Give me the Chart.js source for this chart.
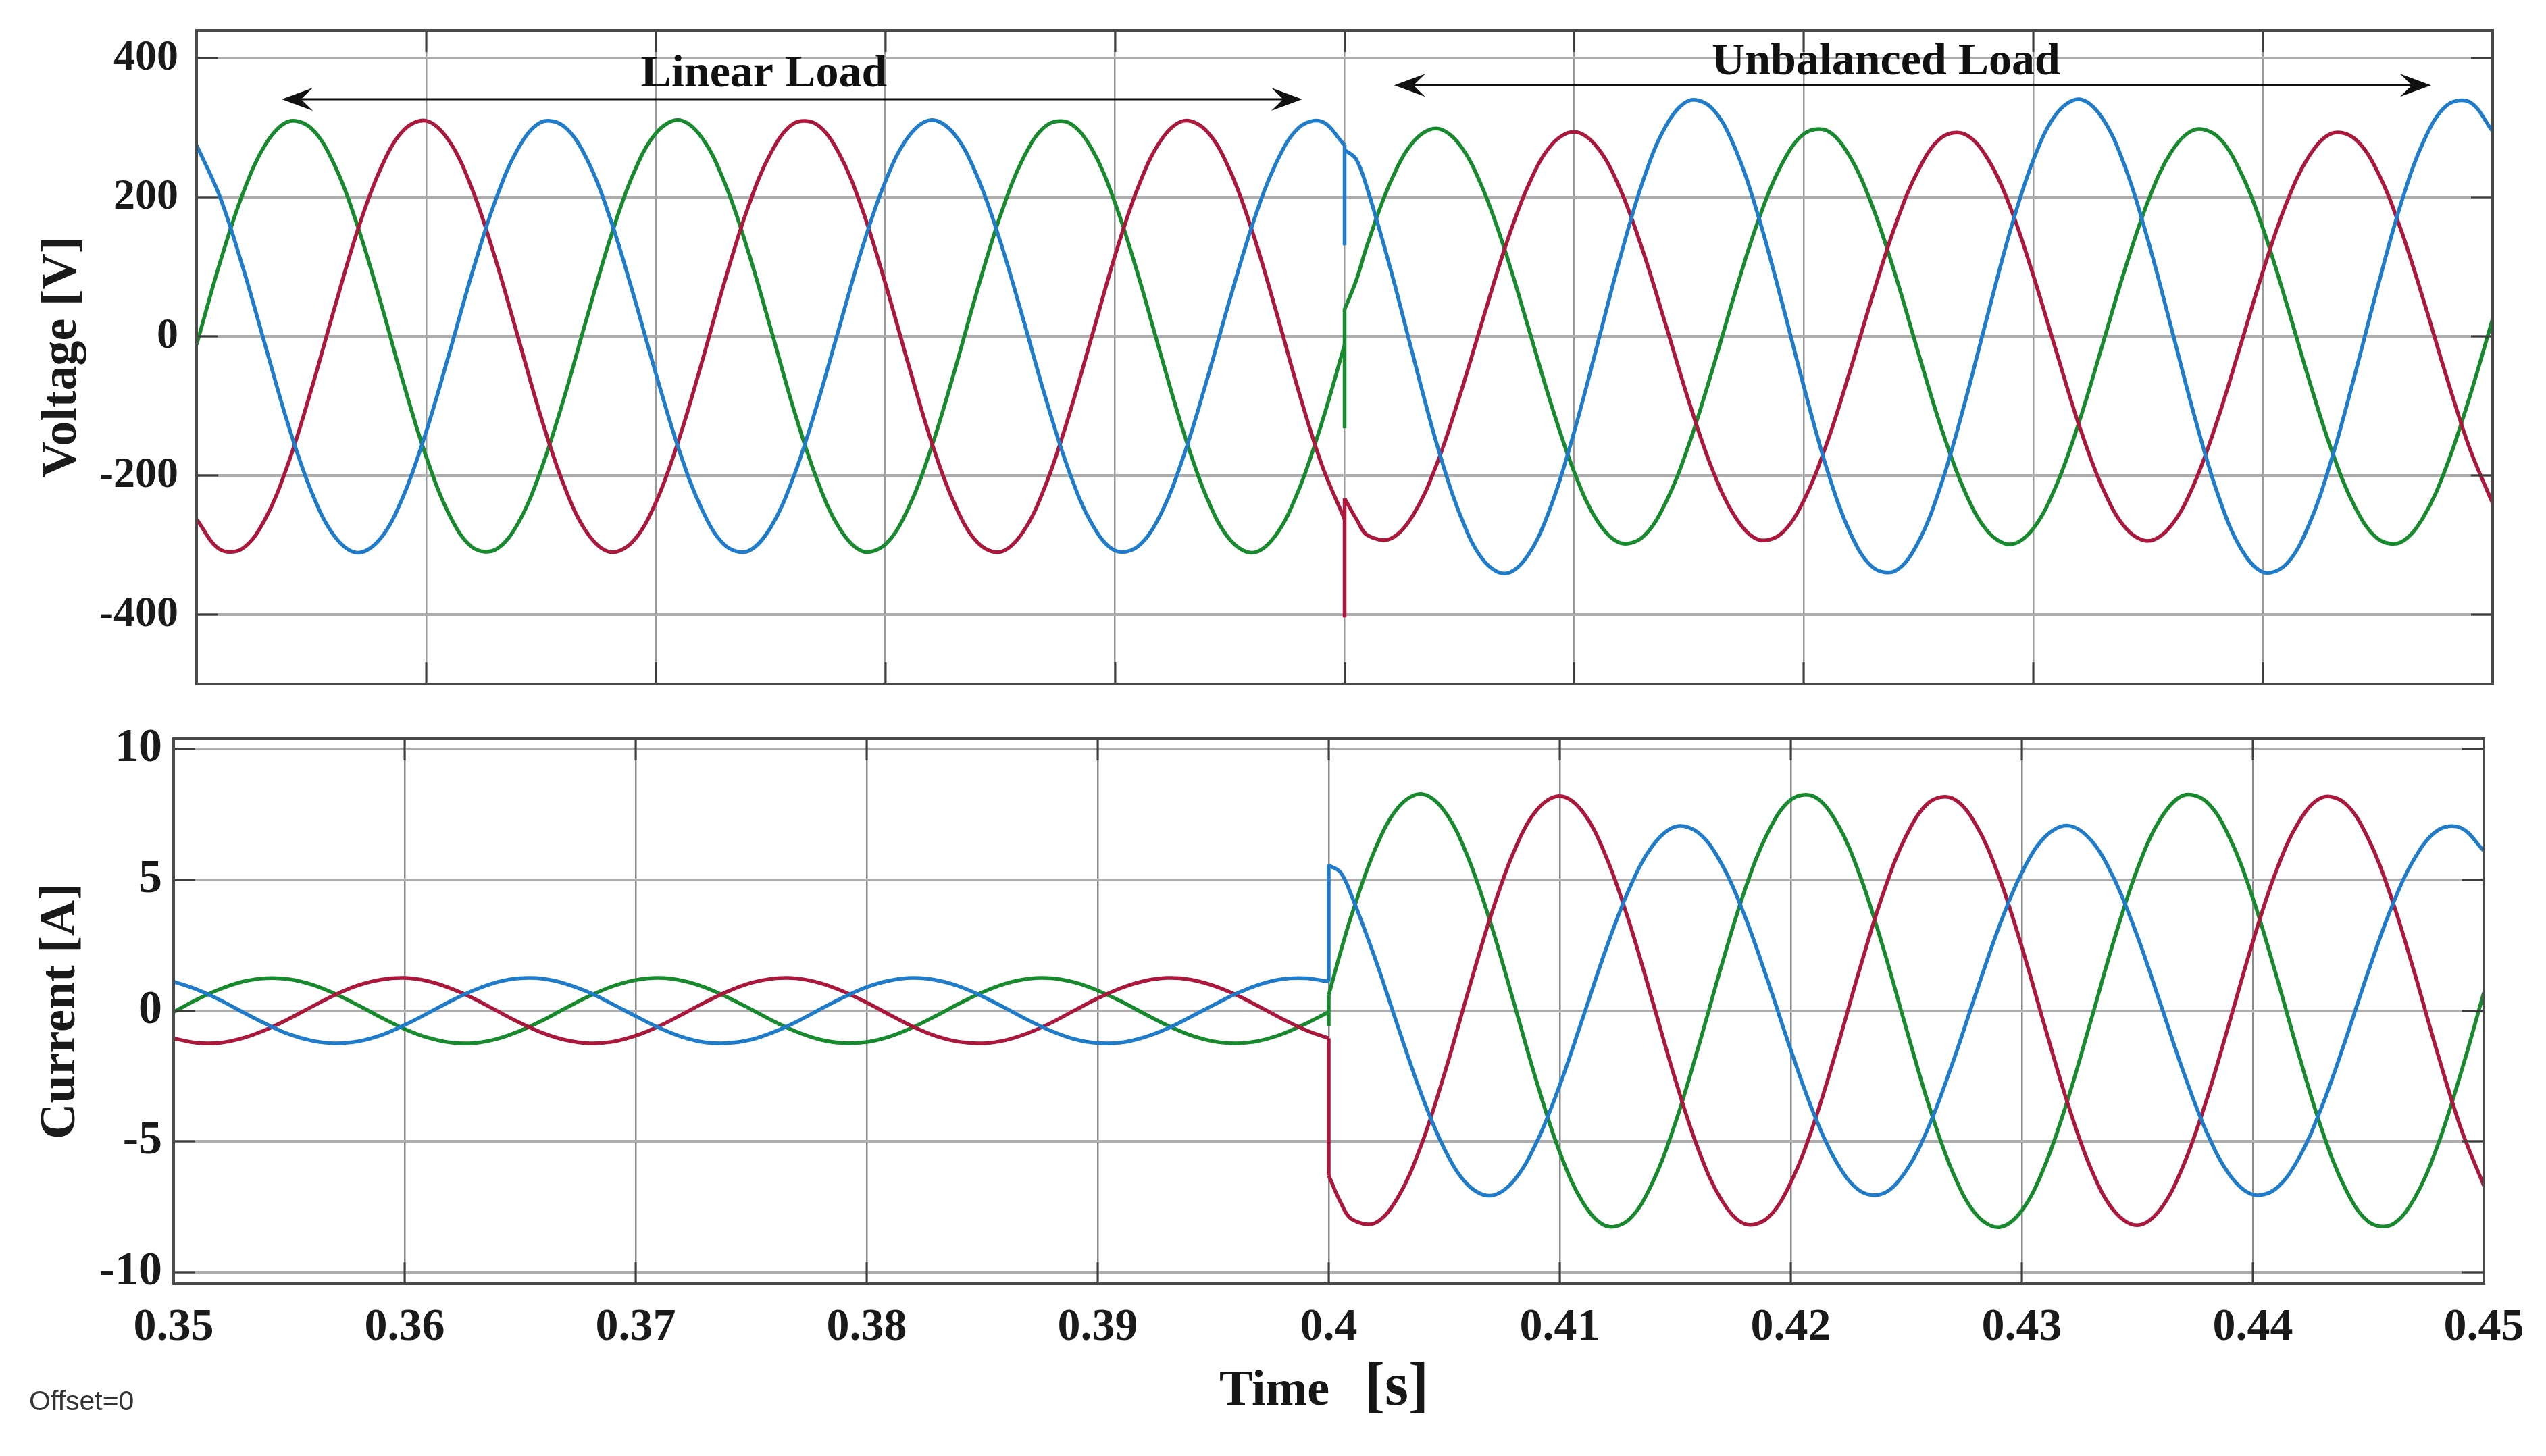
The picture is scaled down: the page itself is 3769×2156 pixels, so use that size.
<!DOCTYPE html>
<html><head><meta charset="utf-8">
<script src="https://cdn.jsdelivr.net/npm/chart.js@4.4.1/dist/chart.umd.min.js"></script>
<style>
html,body{margin:0;padding:0;background:#fff;width:3769px;height:2156px;overflow:hidden}
canvas{position:absolute;left:0}
#cv{top:0}
#ci{top:1040px}
</style></head><body>
<canvas id="cv" width="3769" height="1040"></canvas>
<canvas id="ci" width="3769" height="1116"></canvas>
<script>
// ---------- data ----------
const time = [
 0.350,0.351,0.352,0.353,0.354,0.355,0.356,0.357,0.358,0.359,
 0.360,0.361,0.362,0.363,0.364,0.365,0.366,0.367,0.368,0.369,
 0.370,0.371,0.372,0.373,0.374,0.375,0.376,0.377,0.378,0.379,
 0.380,0.381,0.382,0.383,0.384,0.385,0.386,0.387,0.388,0.389,
 0.390,0.391,0.392,0.393,0.394,0.395,0.396,0.397,0.398,0.399,
 0.400,0.400,0.400,0.4005,
 0.401,0.402,0.403,0.404,0.405,0.406,0.407,0.408,0.409,0.410,
 0.411,0.412,0.413,0.414,0.415,0.416,0.417,0.418,0.419,0.420,
 0.421,0.422,0.423,0.424,0.425,0.426,0.427,0.428,0.429,0.430,
 0.431,0.432,0.433,0.434,0.435,0.436,0.437,0.438,0.439,0.440,
 0.441,0.442,0.443,0.444,0.445,0.446,0.447,0.448,0.449,0.450
];
// index range of the switching instant t = 0.4 s (three samples at the same time)
const switchStart = 50, switchEnd = 52;

// Voltage [V]
const voltageGreen = [
 -12,104,204,276,309,299,247,160,51,-66,-173,-256,-303,-307,-269,-192,-89,27,139,232,292,311,286,221,125,
 12,-104,-204,-276,-309,-299,-247,-160,-51,66,173,256,303,307,269,192,89,-27,-139,-232,-292,-311,-286,-221,-125,
 -12,-132,39,80,
 133,222,280,299,276,214,122,13,-98,-195,-265,-297,-288,-238,-155,-50,62,165,245,291,296,259,186,87,-25,
 -133,-222,-280,-299,-276,-214,-122,-13,98,195,265,297,288,238,155,50,-62,-165,-245,-291,-296,-259,-186,-87,25
];
const voltageRed = [
 -263,-306,-305,-262,-182,-76,40,151,240,296,310,281,212,113,-1,-116,-214,-282,-310,-295,-239,-149,-38,79,184,
 263,306,305,262,182,76,-40,-151,-240,-296,-310,-281,-212,-113,1,116,214,282,310,295,239,149,38,-79,-184,
 -263,-404,-233,-262,
 -286,-291,-256,-185,-87,22,129,217,275,294,272,212,122,15,-94,-190,-259,-292,-284,-236,-154,-51,59,161,240,
 286,291,256,185,87,-22,-129,-217,-275,-294,-272,-212,-122,-15,94,190,259,292,284,236,154,51,-59,-161,-240
];
const voltageBlue = [
 275,202,101,-14,-128,-223,-287,-311,-291,-230,-137,-25,91,194,270,308,302,255,171,63,-53,-162,-248,-300,-309,
 -275,-202,-101,14,128,223,287,311,291,230,137,25,-91,-194,-270,-308,-302,-255,-171,-63,53,162,248,300,309,
 275,131,268,255,
 211,97,-30,-153,-254,-320,-341,-314,-243,-137,-13,113,224,303,339,328,271,175,55,-72,-190,-281,-332,-337,-295,
 -211,-97,30,153,254,320,341,314,243,137,13,-113,-224,-303,-339,-328,-271,-175,-55,72,190,281,332,337,295
];

// Current [A]
const currentGreen = [
 -0.05,0.42,0.82,1.11,1.24,1.20,0.99,0.64,0.20,-0.27,-0.70,-1.03,-1.22,-1.24,-1.08,-0.77,-0.36,0.11,0.56,0.93,1.17,1.25,1.15,0.89,0.50,
 0.05,-0.42,-0.82,-1.11,-1.24,-1.20,-0.99,-0.64,-0.20,0.27,0.70,1.03,1.22,1.24,1.08,0.77,0.36,-0.11,-0.56,-0.93,-1.17,-1.25,-1.15,-0.89,-0.50,
 -0.05,-0.60,0.60,2.20,
 3.68,6.15,7.76,8.28,7.64,5.92,3.37,0.35,-2.72,-5.41,-7.33,-8.23,-7.98,-6.60,-4.30,-1.39,1.71,4.58,6.79,8.06,8.19,7.17,5.15,2.40,-0.69,
 -3.68,-6.15,-7.76,-8.28,-7.64,-5.92,-3.37,-0.35,2.72,5.41,7.33,8.23,7.98,6.60,4.30,1.39,-1.71,-4.58,-6.79,-8.06,-8.19,-7.17,-5.15,-2.40,0.69
];
const currentRed = [
 -1.06,-1.23,-1.23,-1.05,-0.73,-0.31,0.16,0.61,0.97,1.19,1.25,1.13,0.85,0.46,-0.01,-0.47,-0.86,-1.13,-1.25,-1.19,-0.96,-0.60,-0.15,0.32,0.74,
 1.06,1.23,1.23,1.05,0.73,0.31,-0.16,-0.61,-0.97,-1.19,-1.25,-1.13,-0.85,-0.46,0.01,0.47,0.86,1.13,1.25,1.19,0.96,0.60,0.15,-0.32,-0.74,
 -1.06,-5.90,-6.30,-7.30,
 -7.97,-8.12,-7.13,-5.15,-2.44,0.62,3.58,6.05,7.66,8.20,7.59,5.90,3.40,0.41,-2.63,-5.31,-7.23,-8.15,-7.92,-6.57,-4.31,-1.44,1.64,4.48,6.69,
 7.97,8.12,7.13,5.15,2.44,-0.62,-3.58,-6.05,-7.66,-8.20,-7.59,-5.90,-3.40,-0.41,2.63,5.31,7.23,8.15,7.92,6.57,4.31,1.44,-1.64,-4.48,-6.69
];
const currentBlue = [
 1.11,0.81,0.41,-0.06,-0.51,-0.90,-1.15,-1.25,-1.17,-0.93,-0.55,-0.10,0.37,0.78,1.09,1.24,1.22,1.02,0.69,0.25,-0.21,-0.65,-1.00,-1.21,-1.24,
 -1.11,-0.81,-0.41,0.06,0.51,0.90,1.15,1.25,1.17,0.93,0.55,0.10,-0.37,-0.78,-1.09,-1.24,-1.22,-1.02,-0.69,-0.25,0.21,0.65,1.00,1.21,1.24,
 1.11,5.58,5.55,5.30,
 4.37,2.01,-0.62,-3.17,-5.27,-6.64,-7.07,-6.51,-5.03,-2.85,-0.27,2.35,4.64,6.28,7.03,6.80,5.62,3.64,1.15,-1.50,-3.94,-5.82,-6.89,-6.99,-6.11,
 -4.37,-2.01,0.62,3.17,5.27,6.64,7.07,6.51,5.03,2.85,0.27,-2.35,-4.64,-6.28,-7.03,-6.80,-5.62,-3.64,-1.15,1.50,3.94,5.82,6.89,6.99,6.11
];

// ticks
const timeTicks = [0.35,0.36,0.37,0.38,0.39,0.40,0.41,0.42,0.43,0.44,0.45];
const timeTickLabels = ['0.35','0.36','0.37','0.38','0.39','0.4','0.41','0.42','0.43','0.44','0.45'];
const voltageTicks = [-400,-200,0,200,400];
const currentTicks = [-10,-5,0,5,10];

// annotation texts (time / voltage anchors)
const annotations = [
 {text:'Linear Load', tFrom:0.35371, tTo:0.39816, vArrow:341, tText:0.37471, vText:359},
 {text:'Unbalanced Load', tFrom:0.40216, tTo:0.44732, vArrow:361, tText:0.42358, vText:377}
];

// ---------- styling ----------
const COL_GREEN = '#168a2c', COL_RED = '#ab183c', COL_BLUE = '#1f7cca';
const SERIF = '"Liberation Serif", "Times New Roman", serif';

function pts(values, from, to){
  const out = [];
  for (let i = from; i <= to; i++) out.push({x:time[i], y:values[i]});
  return out;
}
// each phase: smooth part before switching, straight jump at t=0.4 s, smooth part after
function phase(values, color){
  const base = {borderColor:color, backgroundColor:color, borderWidth:5.5, pointRadius:0, fill:false};
  return [
    Object.assign({data:pts(values, 0, switchStart), tension:0.36}, base),
    Object.assign({data:pts(values, switchStart, switchEnd), tension:0}, base),
    Object.assign({data:pts(values, switchEnd, time.length-1), tension:0.36}, base)
  ];
}

function setTicks(arr){ return s => { s.ticks = arr.map(v=>({value:v})); }; }
function zeroPad(s){ s.paddingTop=0; s.paddingBottom=0; s.paddingLeft=0; s.paddingRight=0; }

const frameTicks = {
  id:'frameTicks',
  afterDraw(chart){
    const {ctx, chartArea:a, scales} = chart;
    ctx.save();
    ctx.strokeStyle = '#3d3d3d'; ctx.lineWidth = 3;
    const L = 32;
    ctx.beginPath();
    scales.y.ticks.forEach(t=>{ const p = Math.round(scales.y.getPixelForValue(t.value));
      ctx.moveTo(a.left,p); ctx.lineTo(a.left+L,p); ctx.moveTo(a.right,p); ctx.lineTo(a.right-L,p); });
    scales.x.ticks.forEach(t=>{ const p = Math.round(scales.x.getPixelForValue(t.value));
      ctx.moveTo(p,a.bottom); ctx.lineTo(p,a.bottom-L); ctx.moveTo(p,a.top); ctx.lineTo(p,a.top+L); });
    ctx.stroke();
    ctx.lineWidth = 4; ctx.strokeStyle = '#4a4a4a';
    ctx.strokeRect(a.left, a.top, a.right-a.left, a.bottom-a.top);
    ctx.restore();
  }
};

function arrowHead(ctx, x, y, dir){
  const L = 46, H = 17;
  ctx.beginPath();
  ctx.moveTo(x, y);
  ctx.lineTo(x - dir*L, y - H);
  ctx.lineTo(x - dir*L*0.62, y);
  ctx.lineTo(x - dir*L, y + H);
  ctx.closePath(); ctx.fill();
}

const annotPlugin = {
  id:'annotPlugin',
  afterDraw(chart){
    const {ctx, scales:{x, y}} = chart;
    ctx.save();
    ctx.fillStyle = '#111'; ctx.strokeStyle = '#111'; ctx.lineWidth = 3;
    ctx.font = 'bold 68px ' + SERIF; ctx.textAlign = 'center'; ctx.textBaseline = 'alphabetic';
    annotations.forEach(a=>{
      const x1 = x.getPixelForValue(a.tFrom), x2 = x.getPixelForValue(a.tTo), ya = y.getPixelForValue(a.vArrow);
      ctx.beginPath(); ctx.moveTo(x1+20, ya); ctx.lineTo(x2-20, ya); ctx.stroke();
      arrowHead(ctx, x1, ya, -1); arrowHead(ctx, x2, ya, 1);
      ctx.fillText(a.text, x.getPixelForValue(a.tText), y.getPixelForValue(a.vText));
    });
    ctx.restore();
  }
};

const bottomTexts = {
  id:'bottomTexts',
  afterDraw(chart){
    const {ctx, chartArea:a} = chart;
    ctx.save();
    ctx.fillStyle = '#161616'; ctx.textAlign = 'left'; ctx.textBaseline = 'alphabetic';
    ctx.font = 'bold 74px ' + SERIF; const w1 = ctx.measureText('Time').width;
    ctx.font = 'bold 90px ' + SERIF; const w2 = ctx.measureText('[s]').width;
    const gap = 52, total = w1 + gap + w2;
    const x0 = (a.left + a.right)/2 - 7 - total/2;
    const base = a.bottom + 179;
    ctx.font = 'bold 74px ' + SERIF; ctx.fillText('Time', x0, base);
    ctx.font = 'bold 90px ' + SERIF; ctx.fillText('[s]', x0 + w1 + gap, base);
    ctx.fillStyle = '#333'; ctx.font = '41px "Liberation Sans", Arial, sans-serif';
    ctx.fillText('Offset=0', 43, a.bottom + 187);
    ctx.restore();
  }
};

const common = {
  responsive:false, animation:false, devicePixelRatio:1,
  plugins:{legend:{display:false}, tooltip:{enabled:false}},
  elements:{point:{radius:0}}
};

new Chart(document.getElementById('cv'), {
  type:'line',
  data:{datasets:[...phase(voltageBlue, COL_BLUE), ...phase(voltageRed, COL_RED), ...phase(voltageGreen, COL_GREEN)]},
  options:Object.assign({}, common, {
    layout:{padding:{left:0, right:79, top:45, bottom:27}},
    scales:{
      x:{type:'linear', min:0.35, max:0.45, afterBuildTicks:setTicks(timeTicks),
         afterFit:s=>{ s.height = 0; zeroPad(s); },
         ticks:{display:false}, grid:{color:'#9a9a9a', lineWidth:2.5, drawTicks:false}, border:{display:false}},
      y:{type:'linear', min:-500, max:440, afterBuildTicks:setTicks(voltageTicks),
         afterFit:s=>{ s.width = 291; zeroPad(s); },
         ticks:{font:{family:SERIF, weight:'bold', size:64}, color:'#1a1a1a', padding:27},
         grid:{color:'#adadad', lineWidth:4, drawTicks:false}, border:{display:false},
         title:{display:true, text:'Voltage [V]', color:'#1a1a1a', font:{family:SERIF, weight:'bold', size:74}, padding:{top:48, bottom:0}}}
    }
  }),
  plugins:[frameTicks, annotPlugin]
});

new Chart(document.getElementById('ci'), {
  type:'line',
  data:{datasets:[...phase(currentBlue, COL_BLUE), ...phase(currentRed, COL_RED), ...phase(currentGreen, COL_GREEN)]},
  options:Object.assign({}, common, {
    layout:{padding:{left:0, right:92, top:54, bottom:105}},
    scales:{
      x:{type:'linear', min:0.35, max:0.45, afterBuildTicks:setTicks(timeTicks),
         afterFit:s=>{ s.height = 150; zeroPad(s); },
         ticks:{font:{family:SERIF, weight:'bold', size:68}, color:'#1a1a1a', padding:25, maxRotation:0, autoSkip:false,
                callback:(v,i)=>timeTickLabels[i]},
         grid:{color:'#8a8a8a', lineWidth:2.5, drawTicks:false}, border:{display:false}},
      y:{type:'linear', min:-10.44, max:10.39, afterBuildTicks:setTicks(currentTicks),
         afterFit:s=>{ s.width = 257; zeroPad(s); },
         ticks:{font:{family:SERIF, weight:'bold', size:70}, color:'#1a1a1a', padding:17},
         grid:{color:'#adadad', lineWidth:4, drawTicks:false}, border:{display:false},
         title:{display:true, text:'Current [A]', color:'#1a1a1a', font:{family:SERIF, weight:'bold', size:74}, padding:{top:46, bottom:0}}}
    }
  }),
  plugins:[frameTicks, bottomTexts]
});
</script>
</body></html>
